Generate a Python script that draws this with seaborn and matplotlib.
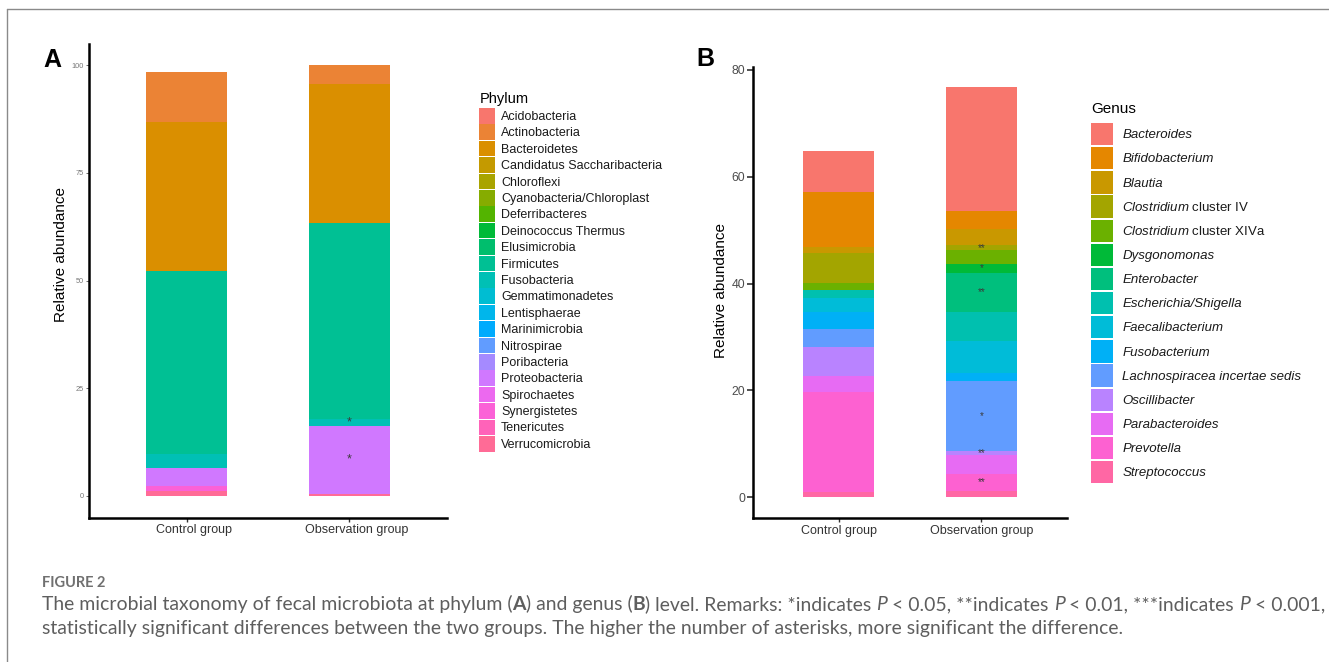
import numpy as np
import pandas as pd
import matplotlib
matplotlib.use("Agg")
import matplotlib.pyplot as plt
import seaborn as sns
from matplotlib.patches import Patch
from matplotlib.lines import Line2D
from matplotlib.transforms import ScaledTranslation

# ---------------- data ----------------
groups = ["Control group", "Observation group"]

phyla = ["Acidobacteria", "Actinobacteria", "Bacteroidetes", "Candidatus Saccharibacteria",
         "Chloroflexi", "Cyanobacteria/Chloroplast", "Deferribacteres", "Deinococcus Thermus",
         "Elusimicrobia", "Firmicutes", "Fusobacteria", "Gemmatimonadetes", "Lentisphaerae",
         "Marinimicrobia", "Nitrospirae", "Poribacteria", "Proteobacteria", "Spirochaetes",
         "Synergistetes", "Tenericutes", "Verrucomicrobia"]
phylum_control = [0, 11.7, 34.5, 0, 0, 0, 0, 0, 0, 42.5, 3.3, 0, 0, 0, 0, 0, 4.2, 0, 1.0, 0, 1.2]
phylum_observation = [0, 4.3, 32.4, 0, 0, 0, 0, 0, 0, 45.5, 1.5, 0, 0, 0, 0, 0, 15.75, 0, 0, 0, 0.55]
phylum_sig_taxa = ["Fusobacteria", "Proteobacteria"]
phylum_sig_marks = ["*", "*"]

genera = ["Bacteroides", "Bifidobacterium", "Blautia", "Clostridium cluster IV",
          "Clostridium cluster XIVa", "Dysgonomonas", "Enterobacter", "Escherichia/Shigella",
          "Faecalibacterium", "Fusobacterium", "Lachnospiracea incertae sedis", "Oscillibacter",
          "Parabacteroides", "Prevotella", "Streptococcus"]
genus_control = [7.8, 10.2, 1.2, 5.6, 1.2, 0, 0, 1.5, 2.7, 3.1, 3.5, 5.3, 3.0, 18.7, 1.05]
genus_observation = [23.15, 3.3, 3.1, 0.95, 2.55, 1.65, 7.35, 5.5, 5.9, 1.5, 13.19, 0.69, 3.61, 3.07, 1.24]
genus_sig_taxa = ["Clostridium cluster IV", "Dysgonomonas", "Enterobacter",
                  "Lachnospiracea incertae sedis", "Oscillibacter", "Prevotella"]
genus_sig_marks = ["**", "*", "**", "*", "**", "**"]

yticks_A = [0, 25, 50, 75, 100]
yticks_B = [0, 20, 40, 60, 80]

genus_legend_labels = ["Bacteroides", "Bifidobacterium", "Blautia",
                       r"Clostridium $\mathrm{cluster\ IV}$", r"Clostridium $\mathrm{cluster\ XIVa}$",
                       "Dysgonomonas", "Enterobacter", "Escherichia/Shigella", "Faecalibacterium",
                       "Fusobacterium", "Lachnospiracea incertae sedis", "Oscillibacter",
                       "Parabacteroides", "Prevotella", "Streptococcus"]

caption_head = "FIGURE 2"
caption_line1 = [("The microbial taxonomy of fecal microbiota at phylum (", {}),
                 ("A", {"weight": "bold"}),
                 (") and genus (", {}),
                 ("B", {"weight": "bold"}),
                 (") level. Remarks: *indicates ", {}),
                 ("P", {"style": "italic"}),
                 (" < 0.05, **indicates ", {}),
                 ("P", {"style": "italic"}),
                 (" < 0.01, ***indicates ", {}),
                 ("P", {"style": "italic"}),
                 (" < 0.001,", {})]
caption_line2 = [("statistically significant differences between the two groups. The higher the number "
                  "of asterisks, more significant the difference.", {})]


# ---------------- colours (ggplot2 hue palette) ----------------
def hcl_hex(h, c=100.0, l=65.0):
    hr = np.deg2rad(h)
    U, V = c * np.cos(hr), c * np.sin(hr)
    Xn, Yn, Zn = 95.047, 100.0, 108.883
    d = Xn + 15 * Yn + 3 * Zn
    un, vn = 4 * Xn / d, 9 * Yn / d
    Y = Yn * ((l + 16) / 116) ** 3
    u = U / (13 * l) + un
    v = V / (13 * l) + vn
    X = 9 * Y * u / (4 * v)
    Z = 3 * Y / v - X / 3 - 5 * Y
    M = np.array([[3.240479, -1.537150, -0.498535],
                  [-0.969256, 1.875992, 0.041556],
                  [0.055648, -0.204043, 1.057311]])
    rgb = M @ (np.array([X, Y, Z]) / 100)
    rgb = np.where(rgb <= 0.0031308, 12.92 * rgb, 1.055 * np.abs(rgb) ** (1 / 2.4) - 0.055)
    rgb = np.clip(rgb, 0, 1)
    return matplotlib.colors.to_hex(rgb)


def hue_pal(n):
    hues = np.linspace(15, 375 - 360 / n, n) % 360
    return [hcl_hex(h) for h in hues]


pal_A = dict(zip(phyla, hue_pal(len(phyla))))
pal_B = dict(zip(genera, hue_pal(len(genera))))

# ---------------- theme ----------------
sns.set_theme(style="white")
plt.rcParams["font.family"] = ["Liberation Sans", "DejaVu Sans"]
plt.rcParams["text.color"] = "black"
plt.rcParams["mathtext.fontset"] = "custom"
plt.rcParams["mathtext.rm"] = "Liberation Sans"
plt.rcParams["mathtext.it"] = "Liberation Sans:italic"
plt.rcParams["mathtext.bf"] = "Liberation Sans:bold"

W, H = 1329, 662
fig = plt.figure(figsize=(W / 100, H / 100), dpi=100)
fig.patch.set_facecolor("white")


def fx(px):
    return px / W


def fy(py):
    return 1 - py / H


def make_df(taxa, ctrl, obs):
    return pd.DataFrame({
        "group": [groups[0]] * len(taxa) + [groups[1]] * len(taxa),
        "taxon": list(taxa) * 2,
        "value": list(ctrl) + list(obs),
    })


def stacked_mid(taxa, values, name):
    # ggplot stacking: first level on top, last level at the bottom
    base = 0.0
    mids = {}
    for t, v in zip(reversed(taxa), reversed(values)):
        mids[t] = base + v / 2
        base += v
    return mids[name]


def draw_panel(ax, taxa, ctrl, obs, pal, yticks, sig_taxa, sig_marks, star_size):
    df = make_df(taxa, ctrl, obs)
    sns.histplot(data=df, x="group", weights="value", hue="taxon", hue_order=taxa,
                 palette=pal, multiple="stack", discrete=True, shrink=0.5,
                 alpha=1, linewidth=0, legend=False, ax=ax)
    top = max(sum(ctrl), sum(obs))
    ax.set_ylim(-0.05 * top, 1.05 * top)
    ax.set_xlim(-0.6, 1.6)
    ax.set_xticks(range(len(groups)))
    ax.set_xticklabels(groups)
    ax.set_yticks(yticks)
    ax.set_yticklabels([str(t) for t in yticks])
    ax.set_xlabel("")
    sns.despine(ax=ax)
    for s in ("left", "bottom"):
        ax.spines[s].set_linewidth(1.8)
        ax.spines[s].set_color("black")
    for t, m in zip(sig_taxa, sig_marks):
        y = stacked_mid(taxa, obs, t)
        ax.text(1, y, m, ha="center", va="center", fontsize=star_size, color="#3a3a3a")


# ---------------- panel A ----------------
axA = fig.add_axes([fx(89), fy(517.5), fx(447 - 89), (517.5 - 43.5) / H])
draw_panel(axA, phyla, phylum_control, phylum_observation, pal_A, yticks_A,
           phylum_sig_taxa, phylum_sig_marks, 9)
axA.tick_params(axis="y", left=True, length=2, width=0.6, color="#555555",
                labelsize=5.3, labelcolor="#777777", pad=2)
axA.tick_params(axis="x", bottom=True, length=3, width=1.0, color="#333333",
                labelsize=9, labelcolor="#333333", pad=2)
for lab in axA.get_xticklabels():
    lab.set_transform(lab.get_transform() + ScaledTranslation(7.5 / 100, 0, fig.dpi_scale_trans))
axA.set_ylabel("Relative abundance", fontsize=11, color="black")
axA.yaxis.label.set_verticalalignment("center")
axA.yaxis.set_label_coords((61 - 89) / (447 - 89), (517.5 - 255) / (517.5 - 43.5))

# ---------------- panel B ----------------
axB = fig.add_axes([fx(753), fy(517.8), fx(1067 - 753), (517.8 - 66.7) / H])
draw_panel(axB, genera, genus_control, genus_observation, pal_B, yticks_B,
           genus_sig_taxa, genus_sig_marks, 7)
axB.tick_params(axis="y", left=True, length=4, width=1.2, color="#333333",
                labelsize=8.8, labelcolor="#4d4d4d", pad=1.5)
axB.tick_params(axis="x", bottom=True, length=3, width=1.0, color="#333333",
                labelsize=9, labelcolor="#333333", pad=2)
axB.set_ylabel("Relative abundance", fontsize=11, color="black")
axB.yaxis.label.set_verticalalignment("center")
axB.yaxis.set_label_coords((720.7 - 753) / (1067 - 753), (517.8 - 290) / (517.8 - 66.7))

# ---------------- legends ----------------
hA = [Patch(facecolor=pal_A[t], edgecolor="none") for t in phyla]
legA = fig.legend(hA, phyla, loc="upper left", bbox_to_anchor=(fx(479.3), fy(91.5)),
                  frameon=False, title="Phylum", fontsize=9, title_fontsize=10.5,
                  handlelength=1.256, handleheight=1.555, labelspacing=0.056,
                  handletextpad=0.48, borderpad=0, borderaxespad=0, alignment="left",
                  labelcolor="#1a1a1a")
legA._legend_box.sep = 1.8
legA.get_title().set_color("black")

hB = [Patch(facecolor=pal_B[t], edgecolor="none") for t in genera]
legB = fig.legend(hB, genus_legend_labels, loc="upper left", bbox_to_anchor=(fx(1091), fy(102)),
                  frameon=False, title="Genus", fontsize=9.5, title_fontsize=11,
                  handlelength=1.691, handleheight=2.224, labelspacing=0.14,
                  handletextpad=0.68, borderpad=0, borderaxespad=0, alignment="left",
                  prop={"style": "italic", "size": 9.5}, labelcolor="#1a1a1a")
legB._legend_box.sep = 5.0
legB.get_title().set_color("black")

# ---------------- panel letters ----------------
fig.text(fx(52), fy(60), "A", ha="center", va="center", fontsize=18, weight="bold", color="black")
fig.text(fx(705), fy(59.5), "B", ha="center", va="center", fontsize=18, weight="bold", color="black")

# ---------------- frame ----------------
fig.add_artist(Line2D([fx(7.3), 1], [fy(8.5), fy(8.5)], color="#8a8a8a", lw=1.0,
                      transform=fig.transFigure))
fig.add_artist(Line2D([fx(7.3), fx(7.3)], [fy(8.5), 0], color="#8a8a8a", lw=1.0,
                      transform=fig.transFigure))

# ---------------- caption ----------------
renderer = fig.canvas.get_renderer()


def advance(txt, size, family, kw):
    p1 = fig.text(0, 0, "|" + txt + "|", fontsize=size, family=family, **kw)
    p2 = fig.text(0, 0, "||", fontsize=size, family=family, **kw)
    w = p1.get_window_extent(renderer).width - p2.get_window_extent(renderer).width
    p1.remove()
    p2.remove()
    return w


def rich_line(x_px, base_px, pieces, size, color, family):
    x = x_px
    for txt, kw in pieces:
        fig.text(fx(x), fy(base_px), txt, fontsize=size, family=family, color=color,
                 ha="left", va="baseline", **kw)
        x += advance(txt, size, family, kw)
    return x


cap_family = ["Lato", "DejaVu Sans"]
# fit caption size to the reference line length
natural = sum(advance(t, 10, cap_family, k) for t, k in caption_line1)
cap_size = 10 * (1320 - 41.7) / natural
rich_line(41.7, 610, caption_line1, cap_size, "#5e5e5e", cap_family)
rich_line(41.7, 634.3, caption_line2, cap_size, "#5e5e5e", cap_family)
head_nat = advance(caption_head, 10, cap_family, {"weight": "bold"})
fig.text(fx(41.7), fy(586.7), caption_head, fontsize=10 * 64 / head_nat, family=cap_family,
         weight="bold", color="#707070", ha="left", va="baseline")

fig.savefig("out.png", dpi=100, facecolor="white")
